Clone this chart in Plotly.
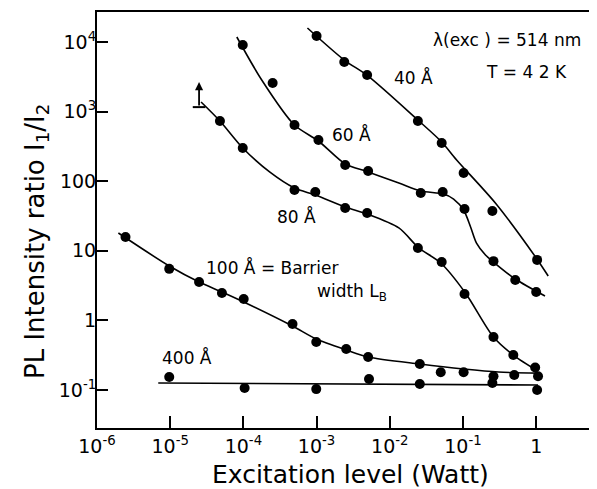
import numpy as np
import plotly.graph_objects as go

# ---------------- data ----------------
# measured points
x40 = [1.0e-3, 2.39e-3, 4.9e-3, 0.0242, 0.0512, 0.102, 0.252, 1.03]
y40 = [12200, 5160, 3360, 733, 354, 131, 37.3, 7.4]

x60 = [9.8e-5, 2.51e-4, 4.99e-4, 1.06e-3, 2.46e-3, 5.06e-3, 0.0265, 0.0528, 0.105, 0.261, 0.518, 1.0]
y60 = [9060, 2580, 641, 391, 171, 140, 67.6, 70, 39.8, 7.1, 3.8, 2.56]

x80 = [4.78e-5, 9.8e-5, 4.99e-4, 9.6e-4, 2.46e-3, 4.9e-3, 0.0242, 0.0512, 0.105, 0.261, 0.487, 0.969]
y80 = [733, 300, 74.8, 70, 41.2, 34.9, 11.0, 6.9, 2.39, 0.578, 0.318, 0.21]

x100 = [2.45e-6, 9.7e-6, 2.48e-5, 5.09e-5, 1.01e-4, 4.69e-4, 9.9e-4, 2.54e-3, 5.06e-3,
        0.0257, 0.0497, 0.102, 0.261, 0.502, 1.06]
y100 = [15.8, 5.5, 3.56, 2.48, 2.03, 0.887, 0.49, 0.388, 0.298,
        0.236, 0.18, 0.18, 0.158, 0.164, 0.158]

x400 = [9.7e-6, 1.04e-4, 9.9e-4, 5.2e-3, 0.0257, 0.252, 1.03]
y400 = [0.154, 0.107, 0.103, 0.144, 0.122, 0.126, 0.10]

# hand-drawn guide curves
cx40 = [7.5e-4, 2.39e-3, 5.06e-3, 0.0242, 0.0512, 0.0819, 0.277, 1.0, 1.46]
cy40 = [15900, 5510, 3240, 757, 366, 202, 48.6, 7.9, 4.35]

cx60 = [8.13e-5, 1.78e-4, 4.99e-4, 1.06e-3, 2.46e-3, 5.06e-3, 0.0133, 0.0265, 0.0545,
        0.0745, 0.102, 0.127, 0.153, 0.203, 0.261, 0.518, 1.32]
cy60 = [11800, 2850, 641, 378, 177, 136, 94.2, 72.3, 65.4,
        55.4, 38.5, 22.0, 12.9, 8.7, 6.9, 3.93, 2.24]

cx80 = [2.64e-5, 4.78e-5, 9.8e-5, 2.28e-4, 4.99e-4, 9.6e-4, 2.46e-3, 4.9e-3, 0.0133,
        0.0249, 0.0497, 0.108, 0.261, 0.487, 1.06]
cy80 = [1375, 733, 300, 136, 79.8, 63.4, 42.6, 33.8, 21.3,
        11.0, 6.68, 2.48, 0.577, 0.318, 0.187]

cx100 = [1.96e-6, 9.7e-6, 2.48e-5, 5.09e-5, 1.01e-4, 4.69e-4, 9.9e-4, 2.54e-3, 5.06e-3,
         0.0257, 0.102, 0.305, 1.06]
cy100 = [18.0, 6.05, 3.56, 2.56, 1.84, 0.83, 0.54, 0.376, 0.298,
         0.236, 0.200, 0.181, 0.175]

cx400 = [6.87e-6, 1.06]
cy400 = [0.126, 0.118]

# lower-bound point (arrow) of the 80 A series
arrow_x = 2.48e-5
arrow_base = 1160
arrow_tip = 2660

# ticks
xtick_vals = [1e-6, 1e-5, 1e-4, 1e-3, 1e-2, 1e-1, 1]
xtick_text = ["10<sup>-6</sup>", "10<sup>-5</sup>", "10<sup>-4</sup>", "10<sup>-3</sup>",
              "10<sup>-2</sup>", "10<sup>-1</sup>", "1"]
ytick_vals = [0.1, 1, 10, 100, 1000, 10000]
ytick_text = ["10<sup>-1</sup>", "1", "10", "100", "10<sup>3</sup>", "10<sup>4</sup>"]

# ---------------- figure ----------------
FONT = "DejaVu Sans"
fig = go.Figure()

for cx, cy in [(cx40, cy40), (cx60, cy60), (cx80, cy80), (cx100, cy100), (cx400, cy400)]:
    fig.add_trace(go.Scatter(x=cx, y=cy, mode="lines",
                             line=dict(color="black", width=1.6, shape="spline", smoothing=0.8),
                             hoverinfo="skip", showlegend=False))

for px, py in [(x40, y40), (x60, y60), (x80, y80), (x100, y100), (x400, y400)]:
    fig.add_trace(go.Scatter(x=px, y=py, mode="markers",
                             marker=dict(color="black", size=10, symbol="circle"),
                             showlegend=False))

# lower bound bar + arrow
fig.add_trace(go.Scatter(x=[arrow_x], y=[arrow_base], mode="markers",
                         marker=dict(symbol="line-ew", size=9, line=dict(color="black", width=2)),
                         showlegend=False))
fig.add_annotation(x=np.log10(arrow_x), y=np.log10(arrow_tip),
                   ax=np.log10(arrow_x), ay=np.log10(arrow_base),
                   xref="x", yref="y", axref="x", ayref="y",
                   showarrow=True, arrowhead=2, arrowsize=0.9, arrowwidth=1.8,
                   arrowcolor="black", text="")

labels = [
    ("40 Å", -1.671, 3.497),
    ("60 Å", -2.527, 2.664),
    ("80 Å", -3.274, 1.50),
    ("100 Å = Barrier", -3.614, 0.753),
    ("width L<sub>B</sub>", -2.514, 0.394),
    ("400 Å", -4.769, -0.526),
    ("λ(exc ) = 514 nm", -0.394, 4.029),
    ("T = 4 2 K", -0.136, 3.569),
]
for t, lx, ly in labels:
    fig.add_annotation(x=lx, y=ly, xref="x", yref="y", text=t, showarrow=False,
                       font=dict(family=FONT, size=17, color="black"))

# axis titles
fig.add_annotation(x=0, y=0.447, xref="paper", yref="paper", xshift=-61,
                   text="PL Intensity ratio I<sub>1</sub>/I<sub>2</sub>", textangle=-90,
                   showarrow=False, xanchor="center", yanchor="middle",
                   font=dict(family=FONT, size=26, color="black"))
fig.add_annotation(x=0.51, y=0, xref="paper", yref="paper", yshift=-46,
                   text="Excitation level (Watt)", showarrow=False,
                   xanchor="center", yanchor="middle",
                   font=dict(family=FONT, size=25, color="black"))

axis_common = dict(showgrid=False, zeroline=False, showline=True, linecolor="black",
                   linewidth=2, mirror=True, ticks="inside", tickcolor="black",
                   tickwidth=1.5, tickfont=dict(family=FONT, size=19, color="black"))
fig.update_xaxes(type="log", range=[-6.0, 0.79], tickmode="array",
                 tickvals=xtick_vals, ticktext=xtick_text, ticklen=12, **axis_common)
fig.update_yaxes(type="log", range=[-1.546, 4.431], tickmode="array",
                 tickvals=ytick_vals, ticktext=ytick_text, ticklen=11,
                 ticklabelstandoff=-5, **axis_common)

# the page body adds an 8 px offset, so the figure is 8 px smaller on each axis
fig.update_layout(width=589, height=481, margin=dict(l=89, r=1, t=4, b=61),
                  plot_bgcolor="white", paper_bgcolor="white",
                  font=dict(family=FONT, color="black"))

fig.write_html("out.html")
